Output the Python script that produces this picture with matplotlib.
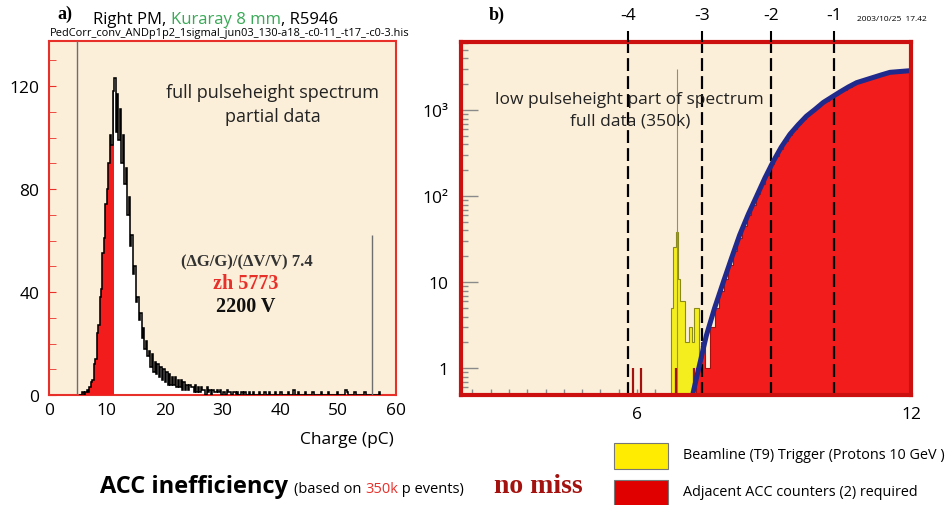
"""Pulse-height spectra of the ACC counter (R5946, Kuraray 8 mm)."""
import numpy as np
import matplotlib
matplotlib.use('Agg')
import matplotlib.pyplot as plt
from matplotlib.patches import Rectangle
from matplotlib.ticker import FixedLocator, NullFormatter, LogLocator

W, H = 951, 506

# a) full spectrum, 0.25 pC bins starting at 5.25 pC
charge_start = 5.25
charge_bin = 0.25
charge_counts = [
    0, 0, 1, 0, 1, 2, 1, 3,
    5, 6, 12, 14, 24, 27, 38, 41,
    55, 61, 74, 80, 90, 101, 97, 118,
    123, 102, 117, 99, 111, 90, 101, 82,
    88, 70, 77, 58, 62, 47, 50, 36,
    38, 29, 32, 22, 26, 18, 21, 15,
    17, 11, 16, 9, 13, 8, 12, 7,
    11, 6, 10, 5, 9, 4, 8, 4,
    7, 4, 7, 3, 6, 3, 6, 2,
    5, 2, 4, 2, 4, 3, 3, 1,
    4, 1, 3, 1, 3, 2, 2, 0,
    3, 1, 2, 0, 2, 1, 1, 2,
    1, 2, 0, 1, 1, 0, 2, 1,
    # tail
    1, 0, 1, 1, 0, 1, 0, 0, 1, 0,
    1, 0, 0, 1, 0, 0, 1, 0, 0, 0,
    1, 0, 0, 0, 1, 0, 0, 1, 0, 0,
    0, 1, 0, 0, 0, 1, 0, 0, 0, 0,
    1, 0, 0, 0, 2, 0, 0, 1, 0, 0,
    0, 0, 1, 0, 0, 0, 0, 1, 0, 0,
    0, 0, 0, 1, 0, 0, 0, 0, 1, 0,
    0, 0, 0, 0, 1, 0, 0, 0, 0, 0,
    2, 1, 0, 0, 0, 0, 1, 0, 0, 0,
    0, 0, 0, 1, 0, 0, 0, 0, 0, 0,
    0, 0, 0, 1,
]
red_cut = 11.25          # counts below this charge are shaded red
spike_x = [4.84, 55.85]  # pedestal / overflow bins
spike_y = [140, 62]
charge_ticks = [0, 10, 20, 30, 40, 50, 60]
count_ticks = [0, 40, 80, 120]

# b) low pulse-height part, log scale
trig_edges = np.round(np.arange(6.75, 7.3501, 0.05), 2)
trig_counts = [5, 26, 38, 11, 6, 6, 2, 2, 3, 2, 5, 5]
trig_spike_x = [6.88]
trig_spike_y = [3000]

acc_edges = np.round(np.arange(7.3, 12.0001, 0.1), 1)
acc_counts = [1, 2, 1, 3, 5, 8, 11, 16, 23, 33,
              45, 60, 80, 106, 138, 178, 236, 292, 352, 440,
              520, 606, 688, 800, 885, 990, 1095, 1210, 1280, 1390,
              1500, 1630, 1730, 1870, 2000, 2100, 2210, 2280, 2390, 2460,
              2560, 2650, 2760, 2790, 2850, 2920, 2960]
acc_lone_x = [5.92, 6.10, 6.86, 7.26]
acc_lone_y = [1, 1, 1, 1]

fit_x = [7.23, 7.38, 7.52, 7.70, 7.89, 8.07, 8.25, 8.44, 8.62, 8.80,
         8.98, 9.16, 9.35, 9.53, 9.71, 9.90, 10.08, 10.26, 10.44, 10.63,
         10.81, 10.99, 11.17, 11.35, 11.54, 11.77, 12.0]
fit_y = [0.52, 1.15, 2.4, 5.0, 10, 19, 35.5, 62, 100, 162,
         251, 372, 525, 676, 851, 1023, 1230, 1413, 1622, 1862,
         2089, 2239, 2399, 2570, 2754, 2818, 2884]

cut_x = [5.81, 7.43, 8.93, 10.31]
cut_labels = ['-4', '-3', '-2', '-1']
decade_ticks = [1, 10, 100, 1000]
decade_labels = ['1', '10', '10²', '10³']

plt.rcParams['font.family'] = ['Open Sans', 'DejaVu Sans']
SERIF = ['Liberation Serif', 'DejaVu Serif']
BEIGE = '#fcefd9'
LRED = '#e8302a'
FRAME = '#cc1010'
RED = '#f31c1c'
DARKRED = '#a3120f'
YELLOW = '#f4ee1e'
BLUE = '#1f2a8c'
GREEN = '#3aa957'
TICKGRAY = '#8a8a8a'


def fpos(x, y):
    return x / W, 1 - y / H


def fbox(x0, y0, x1, y1):
    return [x0 / W, 1 - y1 / H, (x1 - x0) / W, (y1 - y0) / H]


fig = plt.figure(figsize=(W / 100, H / 100), dpi=100)
fig.patch.set_facecolor('white')
renderer = fig.canvas.get_renderer()


def chain(x, y, parts, **common):
    """Write text pieces one after another on a common baseline."""
    for text, kw in parts:
        t = fig.text(*fpos(x, y), text, va='baseline', **common, **kw)
        x = t.get_window_extent(renderer).x1


# ---- panel a ----
ax1 = fig.add_axes(fbox(49, 42, 396, 396))
ax1.set_facecolor(BEIGE)
counts = np.array(charge_counts, dtype=float)
edges = charge_start + charge_bin * np.arange(len(counts) + 1)
n_red = int(round((red_cut - charge_start) / charge_bin))
ax1.stairs(counts, edges, fill=True, color='white', zorder=2)
ax1.stairs(counts[:n_red], edges[:n_red + 1], fill=True, color=RED, zorder=3)
ax1.stairs(counts, edges, color='black', lw=1.15, zorder=4)
ax1.vlines(spike_x, 0, spike_y, colors='#6e6e6e', lw=1.0, zorder=4)
ax1.set_xlim(0, 60)
ax1.set_ylim(0, 137.5)
ax1.set_xticks(charge_ticks)
ax1.set_yticks(count_ticks)
ax1.set_yticks(np.arange(0, 137, 10), minor=True)
ax1.tick_params(axis='x', length=0, pad=5, labelsize=12.5)
ax1.tick_params(axis='y', which='both', direction='in', length=5,
                color=LRED, labelsize=12.5, pad=7)
for s in ax1.spines.values():
    s.set_color(LRED)
    s.set_linewidth(1.5)

ax1.text(0.645, 0.822, 'full pulseheight spectrum\npartial data', transform=ax1.transAxes,
         ha='center', va='center', fontsize=13, linespacing=1.4, color='#222222')
fig.text(*fpos(247, 262), '(ΔG/G)/(ΔV/V) 7.4', family=SERIF, fontweight='bold',
         fontsize=12, ha='center', va='center', color='#333333')
fig.text(*fpos(246, 284), 'zh 5773', family=SERIF, fontweight='bold',
         fontsize=14.5, ha='center', va='center', color=LRED)
fig.text(*fpos(246, 307), '2200 V', family=SERIF, fontweight='bold',
         fontsize=14.5, ha='center', va='center', color='#111111')
fig.text(*fpos(394, 440), 'Charge (pC)', fontsize=12.5, ha='right', va='center')

# ---- panel b ----
ax2 = fig.add_axes(fbox(461, 43, 911, 396))
ax2.set_facecolor(BEIGE)
ax2.set_yscale('log')
ax2.stairs(trig_counts, trig_edges, fill=True, color=YELLOW, baseline=0.1, zorder=2)
ax2.stairs(trig_counts, trig_edges, color='#8a8a1a', lw=0.8, baseline=0.1, zorder=2)
ax2.vlines(trig_spike_x, 0.1, trig_spike_y, colors='#8c8c8c', lw=0.8, zorder=2)
ax2.stairs(acc_counts, acc_edges, fill=True, color=RED, baseline=0.1, zorder=3)
ax2.stairs(acc_counts, acc_edges, color=DARKRED, lw=0.8, baseline=0.1, zorder=3)
ax2.vlines(acc_lone_x, 0.1, acc_lone_y, colors=DARKRED, lw=1.6, zorder=3)
for x in cut_x:
    ax2.axvline(x, color='black', lw=1.6, ls=(0, (5.8, 2.3)), zorder=5)
ax2.plot(fit_x, fit_y, color=BLUE, lw=3.6, solid_capstyle='round',
         solid_joinstyle='round', zorder=6)
ax2.set_xlim(2.15, 12.0)
ax2.set_ylim(0.49, 6200)

ax2.yaxis.set_major_locator(FixedLocator(decade_ticks))
ax2.set_yticklabels(decade_labels)
ax2.yaxis.set_minor_locator(LogLocator(base=10, subs=range(2, 10)))
ax2.yaxis.set_minor_formatter(NullFormatter())
ax2.tick_params(axis='y', which='major', direction='in', length=12, width=1,
                color=TICKGRAY, labelsize=12.5, pad=9)
ax2.tick_params(axis='y', which='minor', direction='in', length=5, width=1,
                color=TICKGRAY)
ax2.set_xticks([6, 12])
ax2.set_xticks(np.round(np.arange(2.4, 11.7, 0.4), 1), minor=True)
ax2.tick_params(axis='x', which='both', direction='in', length=4.5, width=1,
                color=TICKGRAY, labelsize=12.5, pad=8)
for s in ax2.spines.values():
    s.set_color(FRAME)
    s.set_linewidth(3)
    s.set_zorder(7)

ax3 = ax2.twiny()
ax3.set_xlim(ax2.get_xlim())
ax3.set_xticks(cut_x)
ax3.set_xticklabels(cut_labels)
ax3.tick_params(axis='x', direction='out', length=8, width=1.5, color='black',
                labelsize=12.5, pad=6)
for s in ax3.spines.values():
    s.set_visible(False)

ax2.text(0.375, 0.809, 'low pulseheight part of spectrum\nfull data (350k)',
         transform=ax2.transAxes, ha='center', va='center', fontsize=12.5,
         linespacing=1.45, color='#222222', zorder=8)

# ---- headings ----
fig.text(*fpos(65, 14), 'a)', family=SERIF, fontweight='bold', fontsize=13,
         ha='center', va='center')
chain(93, 23.5, [('Right PM, ', {}),
                 ('Kuraray 8 mm', {'color': GREEN}),
                 (', R5946', {})], fontsize=12)
fig.text(*fpos(50, 36), 'PedCorr_conv_ANDp1p2_1sigmal_jun03_130-a18_-c0-11_-t17_-c0-3.his',
         fontsize=7.9, va='baseline')
fig.text(*fpos(497, 15), 'b)', family=SERIF, fontweight='bold', fontsize=13,
         ha='center', va='center')
fig.text(*fpos(857, 21), '2003/10/25  17.42', fontsize=6, va='baseline')

# ---- footer ----
chain(100, 493, [('ACC inefficiency ', {'fontsize': 17, 'fontweight': 'bold'}),
                 ('(based on ', {'fontsize': 10.5}),
                 ('350k', {'fontsize': 10.5, 'color': LRED}),
                 (' p events)', {'fontsize': 10.5})])
fig.text(*fpos(494, 493), 'no miss', family=SERIF, fontweight='bold', fontsize=20,
         va='baseline', color=DARKRED)

fig.add_artist(Rectangle(fpos(614, 470), 54 / W, 26 / H, transform=fig.transFigure,
                         facecolor='#ffec00', edgecolor='#777777', lw=0.8))
fig.add_artist(Rectangle(fpos(614, 507), 54 / W, 26 / H, transform=fig.transFigure,
                         facecolor='#e00000', edgecolor='#777777', lw=0.8))
fig.text(*fpos(683, 456), 'Beamline (T9) Trigger (Protons 10 GeV )', fontsize=10.4,
         va='center')
fig.text(*fpos(683, 493), 'Adjacent ACC counters (2) required', fontsize=10.4,
         va='center')

fig.savefig('out.png', dpi=100)
